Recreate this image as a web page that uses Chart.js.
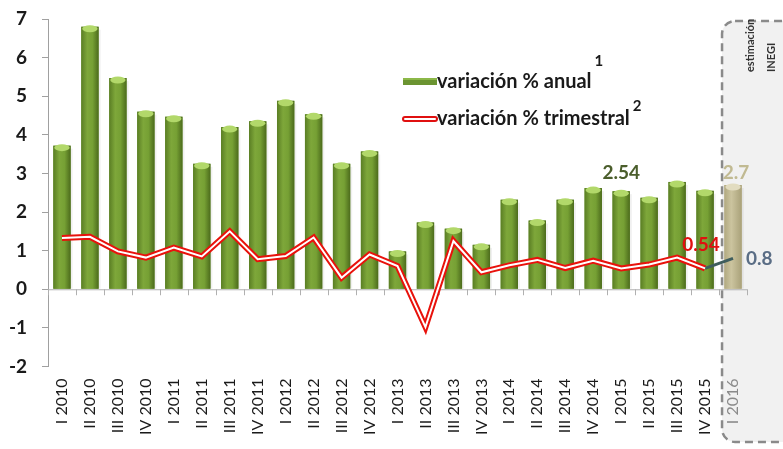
<!DOCTYPE html>
<html>
<head>
<meta charset="utf-8">
<script src="https://cdn.jsdelivr.net/npm/chart.js@4"></script>
<style>
  html, body { margin: 0; padding: 0; background: #ffffff; }
  #wrap { width: 783px; height: 449px; position: relative; }
</style>
</head>
<body>
<div id="wrap"><canvas id="c" width="783" height="449"></canvas></div>
<script>
// ---- data ----
const categories = [
  'I 2010','II 2010','III 2010','IV 2010',
  'I 2011','II 2011','III 2011','IV 2011',
  'I 2012','II 2012','III 2012','IV 2012',
  'I 2013','II 2013','III 2013','IV 2013',
  'I 2014','II 2014','III 2014','IV 2014',
  'I 2015','II 2015','III 2015','IV 2015',
  'I 2016'
];
const anual = [
  3.72, 6.80, 5.47, 4.60,
  4.47, 3.25, 4.20, 4.35,
  4.88, 4.53, 3.25, 3.57,
  0.98, 1.73, 1.57, 1.15,
  2.32, 1.78, 2.32, 2.62,
  2.54, 2.37, 2.78, 2.55,
  2.70
];
const trimestral = [
  1.33, 1.36, 0.98, 0.82,
  1.08, 0.85, 1.50, 0.78,
  0.86, 1.34, 0.30, 0.90,
  0.60, -0.98, 1.25, 0.44,
  0.62, 0.76, 0.55, 0.74,
  0.54, 0.64, 0.82, 0.54,
  0.80
];
const yTicks = [-2, -1, 0, 1, 2, 3, 4, 5, 6, 7];
const legendLabels = ['variación % anual', 'variación % trimestral'];
const legendSup = ['1', '2'];
const boxText = ['estimación', 'INEGI'];
const estIndex = 24;

const innerLine = trimestral.map((v, i) => i < estIndex ? v : null);

// ---- plugins ----
const decor = {
  id: 'decor',
  beforeDraw(chart) {
    const { ctx, scales: { x } } = chart;
    const w = x.getPixelForValue(1) - x.getPixelForValue(0);
    const left = x.getPixelForValue(estIndex) - w / 2 + 3;
    const top = 21, bottom = 442, right = 800, r = 13;
    ctx.save();
    ctx.beginPath();
    ctx.moveTo(left + r, top);
    ctx.lineTo(right, top);
    ctx.lineTo(right, bottom);
    ctx.lineTo(left + r, bottom);
    ctx.arcTo(left, bottom, left, bottom - r, r);
    ctx.lineTo(left, top + r);
    ctx.arcTo(left, top, left + r, top, r);
    ctx.closePath();
    ctx.fillStyle = '#f1f1f1';
    ctx.fill();
    ctx.setLineDash([8, 5]);
    ctx.lineWidth = 2.5;
    ctx.strokeStyle = '#8a8a8a';
    ctx.stroke();
    ctx.setLineDash([]);
    ctx.fillStyle = '#333';
    ctx.font = 'bold 11px Lato';
    ctx.textAlign = 'left';
    ctx.textBaseline = 'middle';
    ctx.translate(left + 28, 72);
    ctx.rotate(-Math.PI / 2);
    ctx.fillText(boxText[0], 0, 0);
    ctx.fillText(boxText[1], 0, 21);
    ctx.restore();
  },
  beforeDatasetsDraw(chart) {
    const { ctx, scales: { x } } = chart;
    const w = x.getPixelForValue(1) - x.getPixelForValue(0);
    const y0 = chart.scales.y.getPixelForValue(0);
    ctx.save();
    ctx.strokeStyle = '#b0b0b0';
    ctx.lineWidth = 1;
    ctx.beginPath();
    ctx.moveTo(chart.chartArea.left, y0 + 0.5);
    ctx.lineTo(chart.chartArea.right, y0 + 0.5);
    for (let i = 0; i <= categories.length; i++) {
      const px = Math.round(x.getPixelForValue(i) - w / 2) + 0.5;
      ctx.moveTo(px, y0);
      ctx.lineTo(px, y0 + 6);
    }
    ctx.stroke();
    ctx.restore();
  },
  afterDatasetDraw(chart, args) {
    if (args.index !== 0) return;
    const { ctx } = chart;
    const meta = chart.getDatasetMeta(0);
    ctx.save();
    meta.data.forEach((bar, i) => {
      const est = i === estIndex;
      const half = bar.width / 2;
      const l = bar.x - half, rr = bar.x + half;
      const top = Math.min(bar.y, bar.base), bot = Math.max(bar.y, bar.base);
      const g = ctx.createLinearGradient(l, 0, rr, 0);
      if (est) {
        g.addColorStop(0, 'rgba(176,168,128,0.95)');
        g.addColorStop(0.4, 'rgba(204,197,160,0.95)');
        g.addColorStop(1, 'rgba(168,160,120,0.95)');
      } else {
        g.addColorStop(0, '#5a7e24');
        g.addColorStop(0.35, '#7ea73a');
        g.addColorStop(0.65, '#76a034');
        g.addColorStop(1, '#4c6b1c');
      }
      ctx.fillStyle = g;
      ctx.fillRect(l, top, bar.width, bot - top);
      ctx.fillStyle = 'rgba(0,0,0,0.06)';
      ctx.fillRect(rr, top + 3, 2, bot - top - 3);
      ctx.beginPath();
      ctx.ellipse(bar.x, top + 2, half - 1, 3.5, 0, 0, Math.PI * 2);
      ctx.fillStyle = est ? '#e2dcc0' : '#b2d86a';
      ctx.fill();
    });
    ctx.restore();
  },
  afterDraw(chart) {
    const { ctx } = chart;
    const bars = chart.getDatasetMeta(0).data;
    const pts = chart.getDatasetMeta(1).data;
    ctx.save();
    ctx.textBaseline = 'middle';
    ctx.font = 'bold 19px Lato';
    ctx.textAlign = 'center';
    ctx.fillStyle = '#4b5e2c';
    ctx.fillText(anual[20].toFixed(2), bars[20].x, bars[20].y - 18);
    ctx.fillStyle = 'rgba(190,182,140,0.95)';
    ctx.fillText(anual[estIndex].toFixed(1), bars[estIndex].x + 3, bars[estIndex].y - 12);
    ctx.fillStyle = '#e01010';
    ctx.fillText(trimestral[23].toFixed(2), pts[23].x - 4, pts[23].y - 24);
    ctx.textAlign = 'left';
    ctx.fillStyle = '#5a6d85';
    ctx.fillText(trimestral[estIndex].toFixed(1), pts[estIndex].x + 13, pts[estIndex].y + 1);

    // legend
    const lx = 403, tx = 437;
    ctx.fillStyle = '#6b9431';
    ctx.fillRect(lx, 78, 34, 7);
    ctx.fillStyle = '#8cb848';
    ctx.fillRect(lx, 78, 34, 2);
    ctx.lineCap = 'round';
    ctx.strokeStyle = '#e01010';
    ctx.lineWidth = 6;
    ctx.beginPath();
    ctx.moveTo(lx + 2, 119);
    ctx.lineTo(lx + 32, 119);
    ctx.stroke();
    ctx.strokeStyle = '#ffffff';
    ctx.lineWidth = 2;
    ctx.beginPath();
    ctx.moveTo(lx + 2, 119);
    ctx.lineTo(lx + 32, 119);
    ctx.stroke();
    ctx.fillStyle = '#1a1a1a';
    ctx.font = 'bold 20px Lato';
    const w1 = ctx.measureText(legendLabels[0]).width;
    const w2 = ctx.measureText(legendLabels[1]).width;
    ctx.fillText(legendLabels[0], tx, 82);
    ctx.fillText(legendLabels[1], tx, 119);
    ctx.font = 'bold 15px Lato';
    ctx.fillText(legendSup[0], tx + w1 + 3, 61);
    ctx.fillText(legendSup[1], tx + w2 + 3, 106);
    ctx.restore();
  }
};

new Chart(document.getElementById('c'), {
  data: {
    labels: categories,
    datasets: [
      {
        type: 'bar',
        label: legendLabels[0],
        data: anual,
        backgroundColor: anual.map((v, i) => i === estIndex ? '#c2b98f' : '#6f9a33'),
        barPercentage: 0.62,
        categoryPercentage: 1,
        order: 3
      },
      {
        type: 'line',
        label: legendLabels[1],
        data: trimestral,
        borderColor: '#e8120c',
        borderWidth: 6,
        pointRadius: 0,
        tension: 0,
        borderJoinStyle: 'miter',
        segment: {
          borderColor: c => c.p1DataIndex === estIndex ? '#3f5d5d' : undefined,
          borderWidth: c => c.p1DataIndex === estIndex ? 3 : undefined
        },
        order: 2
      },
      {
        type: 'line',
        label: 'inner',
        data: innerLine,
        borderColor: '#ffffff',
        borderWidth: 2,
        pointRadius: 0,
        tension: 0,
        borderJoinStyle: 'miter',
        order: 1
      }
    ]
  },
  options: {
    responsive: false,
    animation: false,
    events: [],
    layout: { padding: { left: 0, right: 36, top: 0, bottom: 10 } },
    plugins: { legend: { display: false }, tooltip: { enabled: false } },
    scales: {
      x: {
        type: 'category',
        offset: true,
        grid: { display: false },
        border: { display: false },
        ticks: {
          autoSkip: false,
          minRotation: 90,
          maxRotation: 90,
          padding: 4,
          color: c => c.index === estIndex ? '#8a8a8a' : '#1a1a1a',
          font: { family: 'Lato', size: 16 }
        }
      },
      y: {
        min: yTicks[0],
        max: yTicks[yTicks.length - 1],
        afterBuildTicks: s => { s.ticks = yTicks.map(v => ({ value: v })); },
        afterFit: s => { s.width = 48; s.paddingTop = 19; },
        grid: { drawOnChartArea: false, tickLength: 6, color: '#a0a0a0' },
        border: { color: '#a0a0a0' },
        ticks: {
          padding: 15,
          color: '#1a1a1a',
          font: { family: 'Lato', size: 19, weight: 'bold' }
        }
      }
    }
  },
  plugins: [decor]
});
</script>
</body>
</html>
